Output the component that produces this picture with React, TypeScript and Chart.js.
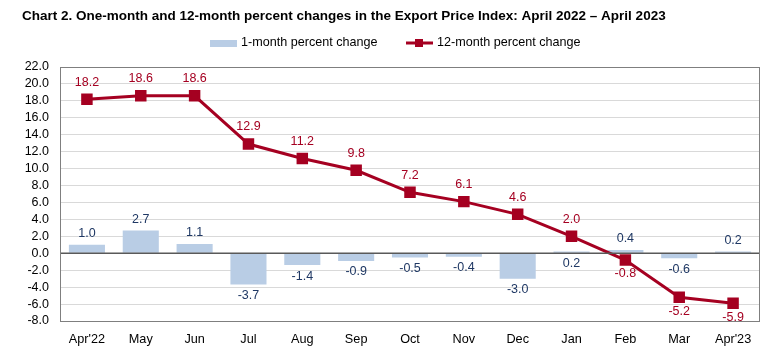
import React, { useEffect, useRef } from "react";
import { Chart, registerables } from "chart.js";

Chart.register(...registerables);

const categories = ["Apr'22", "May", "Jun", "Jul", "Aug", "Sep", "Oct", "Nov", "Dec", "Jan", "Feb", "Mar", "Apr'23"];
const oneMonth = [1.0, 2.7, 1.1, -3.7, -1.4, -0.9, -0.5, -0.4, -3.0, 0.2, 0.4, -0.6, 0.2];
const twelveMonth = [18.2, 18.6, 18.6, 12.9, 11.2, 9.8, 7.2, 6.1, 4.6, 2.0, -0.8, -5.2, -5.9];
// label placement: true = below the mark
const oneMonthLabelBelow = [false, false, false, true, true, true, true, true, true, true, false, true, false];
const twelveMonthLabelBelow = [false, false, false, false, false, false, false, false, false, false, true, true, true];

const TITLE = "Chart 2. One-month and 12-month percent changes in the Export Price Index: April 2022 \u2013 April 2023";
const BAR_COLOR = "#B9CDE5";
const LINE_COLOR = "#A50021";
const BAR_LABEL_COLOR = "#1F3864";
const FONT = "'Liberation Sans', Arial, sans-serif";

const decorPlugin = {
  id: "decor",
  afterDatasetsDraw(chart: any) {
    const { ctx, chartArea, scales } = chart;
    ctx.save();
    const y0 = scales.y.getPixelForValue(0);
    ctx.strokeStyle = "#595959";
    ctx.lineWidth = 1.5;
    ctx.beginPath();
    ctx.moveTo(chartArea.left, y0);
    ctx.lineTo(chartArea.right, y0);
    ctx.stroke();
    ctx.lineWidth = 1;
    ctx.strokeStyle = "#7f7f7f";
    ctx.strokeRect(chartArea.left + 0.5, chartArea.top + 0.5, chartArea.right - chartArea.left - 1, chartArea.bottom - chartArea.top);
    ctx.restore();
  },
  afterDraw(chart: any) {
    const { ctx } = chart;
    ctx.save();
    ctx.font = `12.5px ${FONT}`;
    ctx.textAlign = "center";
    ctx.textBaseline = "middle";
    const barMeta = chart.getDatasetMeta(0);
    barMeta.data.forEach((el: any, i: number) => {
      const v = oneMonth[i];
      const top = Math.min(el.y, el.base);
      const bot = Math.max(el.y, el.base);
      const below = oneMonthLabelBelow[i];
      const y = below ? bot + 11 : top - 11;
      ctx.fillStyle = BAR_LABEL_COLOR;
      ctx.fillText(v.toFixed(1), el.x, y);
    });
    const lineMeta = chart.getDatasetMeta(1);
    lineMeta.data.forEach((el: any, i: number) => {
      const v = twelveMonth[i];
      const below = twelveMonthLabelBelow[i];
      const y = below ? el.y + 14 : el.y - 17;
      ctx.fillStyle = LINE_COLOR;
      ctx.fillText(v.toFixed(1), el.x, y);
    });
    ctx.fillStyle = "#000";
    ctx.font = `bold 13.5px ${FONT}`;
    ctx.textAlign = "left";
    ctx.fillText(TITLE, 22, 16);
    ctx.font = `12.6px ${FONT}`;
    ctx.fillStyle = BAR_COLOR;
    ctx.fillRect(210, 40, 27, 7);
    ctx.fillStyle = "#000";
    ctx.fillText("1-month percent change", 241, 43);
    ctx.strokeStyle = LINE_COLOR;
    ctx.lineWidth = 3;
    ctx.beginPath();
    ctx.moveTo(406, 43);
    ctx.lineTo(433, 43);
    ctx.stroke();
    ctx.fillStyle = LINE_COLOR;
    ctx.fillRect(415, 39, 8, 8);
    ctx.fillStyle = "#000";
    ctx.fillText("12-month percent change", 437, 43);
    ctx.restore();
  },
};

export default function App() {
  const ref = useRef<HTMLCanvasElement | null>(null);
  useEffect(() => {
    if (!ref.current) return;
    const chart = new Chart(ref.current, {
      type: "bar",
      data: {
        labels: categories,
        datasets: [
          {
            type: "bar",
            label: "1-month percent change",
            data: oneMonth,
            backgroundColor: BAR_COLOR,
            borderWidth: 0,
            categoryPercentage: 1,
            barPercentage: 0.67,
            order: 2,
          },
          {
            type: "line",
            label: "12-month percent change",
            data: twelveMonth,
            borderColor: LINE_COLOR,
            backgroundColor: LINE_COLOR,
            borderWidth: 3,
            pointStyle: "rect",
            pointRadius: 6,
            pointBackgroundColor: LINE_COLOR,
            pointBorderColor: LINE_COLOR,
            tension: 0,
            order: 1,
          } as any,
        ],
      },
      options: {
        animation: false,
        responsive: false,
        layout: { padding: { left: 0, top: 67, right: 20, bottom: 0 } },
        plugins: {
          legend: { display: false },
          title: { display: false },
          tooltip: { enabled: false },
        },
        scales: {
          x: {
            grid: { display: false, drawTicks: false },
            border: { display: false },
            ticks: { color: "#000", font: { family: FONT, size: 12.7 }, padding: 11, maxRotation: 0, autoSkip: false },
            afterFit: (s: any) => { s.height = 38; },
          },
          y: {
            min: -8,
            max: 22,
            grid: { color: "#d9d9d9", lineWidth: 1, drawTicks: false },
            border: { display: false },
            ticks: {
              stepSize: 2,
              autoSkip: false,
              color: "#000",
              font: { family: FONT, size: 12.5 },
              padding: 11,
              callback: (v: any) => Number(v).toFixed(1),
            },
            afterFit: (s: any) => { s.width = 60; },
          },
        },
      },
      plugins: [decorPlugin],
    });
    return () => chart.destroy();
  }, []);
  return (
    <div style={{ position: "absolute", left: 0, top: 0, width: 780, height: 359, background: "#fff" }}>
      <canvas ref={ref} width={780} height={359} />
    </div>
  );
}
